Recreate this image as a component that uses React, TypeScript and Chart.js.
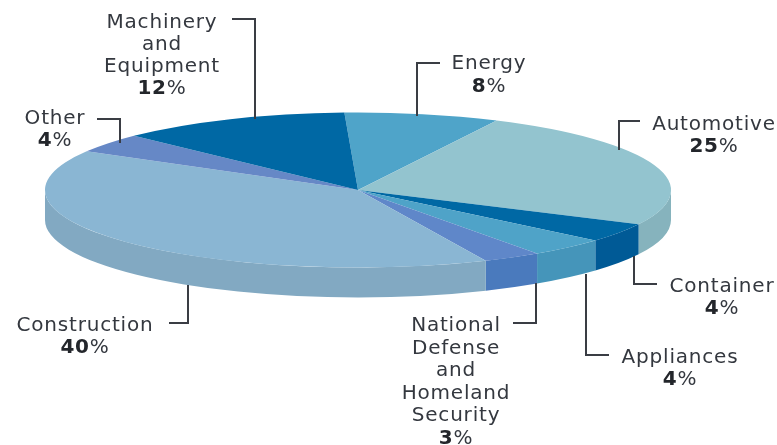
import React, { useEffect, useRef } from "react";
import { Chart, registerables } from "chart.js";

Chart.register(...registerables);

const categories = [
  "Energy",
  "Automotive",
  "Container",
  "Appliances",
  "National Defense and Homeland Security",
  "Construction",
  "Other",
  "Machinery and Equipment",
];
const shares = [8, 25, 4, 4, 3, 40, 4, 12];
const topColors = ["#4fa4c9", "#93c4cf", "#0068a4", "#4fa3c8", "#5f87c9", "#8ab6d3", "#6688c6", "#0068a4"];
const wallColors = ["#4595b9", "#86b3bd", "#005a96", "#4595ba", "#4a7abd", "#82a9c2", "#5a7ab3", "#005a96"];

const labelLines = [
  ["Energy"],
  ["Automotive"],
  ["Container"],
  ["Appliances"],
  ["National", "Defense", "and", "Homeland", "Security"],
  ["Construction"],
  ["Other"],
  ["Machinery", "and", "Equipment"],
];

// Where each callout sits: text centre, first baseline, line step and its elbow leader.
const callouts = [
  { x: 489, y: 69, step: 23, leader: [[440, 63], [417, 63], [417, 116]] },
  { x: 714, y: 130, step: 22, leader: [[640, 121], [619, 121], [619, 150]] },
  { x: 722, y: 292, step: 22, leader: [[657, 284], [634, 284], [634, 256]] },
  { x: 680, y: 363, step: 22, leader: [[609, 355], [586, 355], [586, 274]] },
  { x: 456, y: 331, step: 22.6, leader: [[513, 323], [536, 323], [536, 283]] },
  { x: 85, y: 331, step: 22, leader: [[169, 323], [188, 323], [188, 285]] },
  { x: 55, y: 124, step: 22, leader: [[97, 119], [120, 119], [120, 143]] },
  { x: 162, y: 28, step: 22, leader: [[232, 19], [255, 19], [255, 119]] },
];

// Disc geometry on the page: centre, ellipse radii and the height of the rim.
const DISC = { cx: 358, cy: 190, rx: 313, ry: 77.5, depth: 30 };
const TEXT_FONT = '20px "DejaVu Sans"';
const BOLD_FONT = 'bold 20px "DejaVu Sans"';

const tiltedDisc = {
  id: "tiltedDisc",
  beforeDatasetsDraw(chart: any) {
    const { ctx } = chart;
    const arcs = chart.getDatasetMeta(0).data;
    const first = arcs[0];
    const scaleX = DISC.rx / first.outerRadius;
    const scaleY = DISC.ry / first.outerRadius;

    // Rim: only the part of each slice that faces the viewer is visible.
    arcs.forEach((arc: any, i: number) => {
      for (const turn of [0, Math.PI * 2]) {
        const a0 = Math.max(arc.startAngle, turn);
        const a1 = Math.min(arc.endAngle, turn + Math.PI);
        if (a1 <= a0) continue;
        ctx.beginPath();
        ctx.ellipse(DISC.cx, DISC.cy, DISC.rx, DISC.ry, 0, a0, a1);
        ctx.ellipse(DISC.cx, DISC.cy + DISC.depth, DISC.rx, DISC.ry, 0, a1, a0, true);
        ctx.closePath();
        ctx.fillStyle = wallColors[i];
        ctx.fill();
      }
    });

    ctx.save();
    ctx.translate(DISC.cx, DISC.cy);
    ctx.scale(scaleX, scaleY);
    ctx.translate(-first.x, -first.y);
  },
  afterDatasetsDraw(chart: any) {
    const { ctx } = chart;
    ctx.restore();

    callouts.forEach((c, i) => {
      ctx.strokeStyle = "#3a3d44";
      ctx.lineWidth = 2;
      ctx.beginPath();
      c.leader.forEach(([x, y], k) => (k ? ctx.lineTo(x, y) : ctx.moveTo(x, y)));
      ctx.stroke();

      ctx.textBaseline = "alphabetic";
      ctx.textAlign = "left";
      ctx.letterSpacing = "0.8px";
      ctx.fillStyle = "#34383f";
      ctx.font = TEXT_FONT;
      const lines = labelLines[i];
      lines.forEach((line, k) => {
        ctx.fillText(line, c.x - ctx.measureText(line).width / 2, c.y + k * c.step);
      });

      const valueY = c.y + lines.length * c.step;
      const digits = String(shares[i]);
      ctx.font = BOLD_FONT;
      const digitsWidth = ctx.measureText(digits).width;
      ctx.font = TEXT_FONT;
      const signWidth = ctx.measureText("%").width;
      const left = c.x - (digitsWidth + signWidth) / 2;
      ctx.font = BOLD_FONT;
      ctx.fillStyle = "#23262b";
      ctx.fillText(digits, left, valueY);
      ctx.font = TEXT_FONT;
      ctx.fillStyle = "#34383f";
      ctx.fillText("%", left + digitsWidth, valueY);
      ctx.letterSpacing = "0px";
    });
  },
};

export default function App() {
  const canvasRef = useRef<HTMLCanvasElement>(null);

  useEffect(() => {
    const chart = new Chart(canvasRef.current as HTMLCanvasElement, {
      type: "pie",
      data: {
        labels: categories,
        datasets: [{ data: shares, backgroundColor: topColors, borderWidth: 0 }],
      },
      options: {
        responsive: false,
        animation: false,
        rotation: -2.5,
        events: [],
        plugins: { legend: { display: false }, tooltip: { enabled: false } },
      },
      plugins: [tiltedDisc],
    });
    return () => chart.destroy();
  }, []);

  return (
    <div style={{ position: "fixed", left: 0, top: 0, width: 777, height: 445, background: "#fff" }}>
      <canvas ref={canvasRef} width={777} height={445} style={{ display: "block" }} />
    </div>
  );
}
